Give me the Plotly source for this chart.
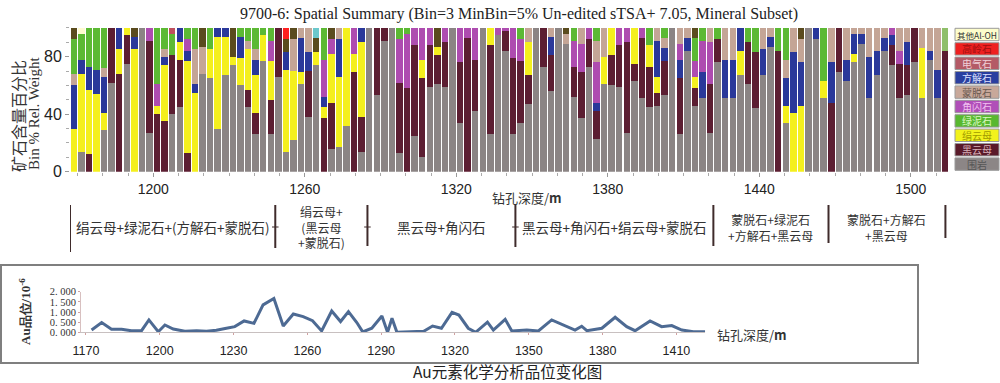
import plotly.graph_objects as go

# ---------------- top chart data (Bin = 3 m) ----------------
bin_start = 1167
bin_size = 3
n_bins = 116
depth_centers = [bin_start + bin_size * (i + 0.5) for i in range(n_bins)]

wallrock = [  # 围岩
    0, 14, 0, 0, 29, 62, 0, 75, 0, 100,
    27, 0, 0, 40, 45, 0, 0, 68, 65, 30,
    67, 74, 60, 45, 26, 77, 26, 66, 14, 22,
    61, 38, 74, 0, 16, 17, 32, 0, 14, 100,
    53, 91, 100, 13, 0, 25, 10, 59, 61, 59,
    100, 34, 0, 42, 100, 26, 95, 84, 26, 34,
    47, 100, 73, 56, 100, 89, 52, 37, 73, 23,
    61, 60, 59, 27, 63, 51, 45, 46, 53, 100,
    26, 84, 46, 51, 27, 76, 51, 51, 67, 61,
    44, 67, 87, 0, 34, 0, 0, 100, 92, 51,
    0, 69, 63, 76, 89, 51, 67, 84, 74, 51,
    53, 76, 51, 78, 51, 0]
biotite = [  # 黑云母
    0, 0, 12, 0, 0, 38, 68, 20, 0, 0,
    64, 40, 35, 41, 33, 13, 0, 0, 0, 0,
    0, 0, 0, 12, 15, 0, 24, 34, 0, 0,
    0, 32, 0, 37, 32, 0, 0, 69, 24, 0,
    47, 9, 0, 49, 58, 63, 55, 29, 20, 31,
    0, 42, 93, 36, 0, 62, 0, 14, 53, 43,
    20, 0, 27, 25, 0, 0, 21, 32, 19, 19,
    0, 21, 29, 63, 12, 42, 28, 9, 24, 0,
    39, 0, 12, 0, 34, 16, 0, 0, 0, 29,
    39, 0, 0, 84, 0, 0, 0, 0, 0, 0,
    48, 31, 0, 0, 0, 0, 0, 0, 14, 24,
    21, 24, 0, 0, 0, 84]
sericite = [  # 绢云母
    30, 54, 45, 54, 12, 0, 17, 5, 85, 0,
    0, 6, 39, 0, 12, 64, 55, 0, 20, 64,
    27, 6, 19, 28, 26, 18, 27, 0, 57, 48,
    8, 0, 9, 8, 34, 49, 68, 13, 52, 0,
    0, 0, 0, 0, 0, 0, 13, 0, 6, 0,
    0, 0, 0, 0, 0, 12, 0, 0, 0, 0,
    23, 0, 0, 0, 0, 0, 0, 0, 0, 0,
    19, 19, 0, 0, 25, 0, 15, 11, 0, 0,
    0, 0, 8, 0, 0, 0, 0, 0, 17, 0,
    0, 0, 0, 0, 12, 41, 46, 0, 0, 12,
    0, 0, 0, 6, 0, 0, 0, 0, 0, 0,
    0, 0, 35, 0, 0, 0]
calcite = [  # 方解石
    30, 10, 16, 17, 25, 0, 15, 0, 9, 0,
    0, 0, 6, 0, 10, 7, 6, 0, 0, 6,
    6, 0, 15, 0, 11, 0, 0, 0, 12, 0,
    24, 13, 0, 7, 0, 26, 0, 0, 10, 0,
    0, 0, 0, 0, 0, 0, 0, 0, 0, 0,
    0, 0, 0, 0, 0, 0, 0, 0, 0, 0,
    0, 0, 0, 13, 0, 0, 0, 0, 0, 6,
    0, 0, 0, 0, 0, 0, 0, 25, 9, 0,
    13, 9, 0, 18, 0, 0, 27, 27, 16, 0,
    0, 18, 7, 0, 19, 42, 30, 0, 8, 0,
    28, 0, 15, 14, 7, 29, 17, 9, 7, 0,
    16, 0, 0, 6, 20, 0]
amphibole = [  # 角闪石
    0, 0, 0, 0, 0, 0, 0, 0, 0, 0,
    9, 15, 0, 0, 0, 8, 0, 0, 0, 0,
    0, 0, 0, 0, 0, 0, 14, 0, 0, 0,
    0, 0, 0, 26, 10, 0, 0, 18, 0, 0,
    0, 0, 0, 30, 38, 12, 22, 12, 0, 10,
    0, 24, 7, 22, 0, 0, 5, 2, 21, 15,
    0, 0, 0, 0, 0, 0, 18, 20, 8, 28,
    0, 0, 12, 10, 0, 7, 0, 0, 0, 0,
    11, 0, 11, 22, 29, 0, 0, 0, 0, 0,
    0, 0, 0, 0, 0, 0, 0, 0, 0, 0,
    0, 0, 0, 0, 0, 0, 0, 0, 5, 9,
    0, 0, 0, 0, 0, 0]
montmorillonite = [  # 蒙脱石
    8, 0, 0, 0, 6, 0, 0, 0, 0, 0,
    0, 0, 5, 0, 0, 0, 24, 19, 0, 0,
    0, 0, 0, 6, 7, 0, 0, 0, 0, 22,
    7, 17, 0, 0, 0, 8, 0, 0, 0, 0,
    0, 0, 0, 0, 0, 0, 0, 0, 0, 0,
    0, 0, 0, 0, 0, 0, 0, 0, 0, 0,
    10, 0, 0, 6, 0, 7, 0, 11, 0, 15,
    20, 0, 0, 0, 0, 0, 0, 9, 7, 0,
    11, 7, 0, 0, 10, 0, 22, 22, 0, 0,
    0, 15, 6, 0, 13, 17, 16, 0, 0, 0,
    24, 0, 22, 4, 4, 20, 16, 7, 0, 16,
    10, 0, 14, 16, 29, 0]
chlorite = [  # 绿泥石
    24, 18, 27, 29, 28, 0, 0, 0, 0, 0,
    0, 39, 15, 15, 0, 8, 15, 0, 15, 0,
    0, 0, 6, 9, 15, 5, 9, 0, 0, 0,
    0, 0, 0, 22, 0, 0, 0, 0, 0, 0,
    0, 0, 0, 8, 4, 0, 0, 0, 0, 0,
    0, 0, 0, 0, 0, 0, 0, 0, 0, 8,
    0, 0, 0, 0, 0, 0, 9, 0, 0, 9,
    0, 0, 0, 0, 0, 0, 12, 0, 7, 0,
    0, 0, 16, 9, 0, 8, 0, 0, 0, 10,
    17, 0, 0, 16, 22, 0, 0, 0, 0, 37,
    0, 0, 0, 0, 0, 0, 0, 0, 0, 0,
    0, 0, 0, 0, 0, 0]
olive_phase = [  # dark olive segments
    8, 0, 0, 0, 0, 0, 0, 0, 6, 0,
    0, 0, 0, 0, 0, 0, 0, 13, 0, 0,
    0, 20, 0, 0, 0, 0, 0, 0, 9, 8,
    0, 0, 10, 0, 8, 0, 0, 0, 0, 0,
    0, 0, 0, 0, 0, 0, 0, 0, 13, 0,
    0, 0, 0, 0, 0, 0, 0, 0, 0, 0,
    0, 0, 0, 0, 0, 4, 0, 0, 0, 0,
    0, 0, 0, 0, 0, 0, 0, 0, 0, 0,
    0, 0, 7, 0, 0, 0, 0, 0, 0, 0,
    0, 0, 0, 0, 0, 0, 8, 0, 0, 0,
    0, 0, 0, 0, 0, 0, 0, 0, 0, 0,
    0, 0, 0, 0, 0, 0]
tourmaline = {13: 4}      # 电气石 (bin index: %)
kaolinite = {28: 8}       # 高岭石
other_aloh = {1: 4}       # 其他Al-OH
cyan_phase = {32: 7}
lightgreen_phase = {115: 16}

# stacking order (bottom -> top)
series = [
    ("围岩", wallrock, "#8b8484"),
    ("黑云母", biotite, "#5c1e32"),
    ("绢云母", sericite, "#f4ef1e"),
    ("方解石", calcite, "#2a389a"),
    ("角闪石", amphibole, "#ae4cb0"),
    ("蒙脱石", montmorillonite, "#c4a596"),
    ("绿泥石", chlorite, "#5cb934"),
    ("olive", olive_phase, "#5a4b1e"),
    ("电气石", tourmaline, "#c0505e"),
    ("高岭石", kaolinite, "#ff2020"),
    ("其他Al-OH", other_aloh, "#fffbd0"),
    ("cyan", cyan_phase, "#6cc8cc"),
    ("lightgreen", lightgreen_phase, "#8fbf6a"),
]

legend_names = ["其他Al-OH", "高岭石", "电气石", "方解石", "蒙脱石",
                "角闪石", "绿泥石", "绢云母", "黑云母", "围岩"]
legend_fill = ["#fdfdcc", "#ee2020", "#b45a66", "#2a3fa0", "#c8a89a",
               "#b04fb8", "#58b830", "#f2f21c", "#5a1a2a", "#8c8686"]
legend_text = ["#333333", "#a01010", "#f0d0d8", "#dde0ff", "#6a5a50",
               "#f0c0f0", "#d8f8c0", "#a09a00", "#d8b0b8", "#555555"]

x_tick_vals = [1200, 1260, 1320, 1380, 1440, 1500]
y_tick_vals = [0, 40, 80]

# zone band
zone_bounds = [1167, 1248.3, 1284.8, 1343.4, 1421.8, 1467.4, 1513.7]
zone_bottoms_px = [252, 248, 246, 247, 246, 243, 238]
zone_labels = ["绢云母+绿泥石+(方解石+蒙脱石)",
               "绢云母+<br>(黑云母<br>+蒙脱石)",
               "黑云母+角闪石",
               "黑云母+角闪石+绢云母+蒙脱石",
               "蒙脱石+绿泥石<br>+方解石+黑云母",
               "蒙脱石+方解石<br>+黑云母"]

# ---------------- bottom chart data ----------------
au_depth = [1172.3, 1176.4, 1180.4, 1184.5, 1188.5, 1192.6, 1195.6, 1199.4, 1202.1, 1205.5,
            1210.2, 1215, 1219, 1223, 1227.1, 1230.5, 1234.3, 1238.3, 1242, 1246.4,
            1250.2, 1254.3, 1258.3, 1262.1, 1265.8, 1269.9, 1273.5, 1276.7, 1280.1, 1282.5,
            1286.2, 1290.3, 1292.6, 1294.4, 1296.4, 1301.8, 1307.3, 1310.9, 1314.5, 1318.8,
            1321.6, 1325.4, 1328.4, 1333.2, 1335.6, 1340.4, 1343.1, 1349.2, 1353.9, 1359.3,
            1364.1, 1368.8, 1371.5, 1373.6, 1379.7, 1385.1, 1389.8, 1393.2, 1399.3, 1404,
            1408.1, 1412.2, 1416.9, 1421.7]
au_grade = [0.11, 0.48, 0.15, 0.15, 0.08, 0.08, 0.61, 0.03, 0.36, 0.16,
            0.05, 0.08, 0.05, 0.10, 0.20, 0.28, 0.56, 0.44, 1.35, 1.67,
            0.31, 0.90, 0.77, 0.57, 0.07, 1.05, 0.53, 1.02, 0.48, 0.02,
            0.20, 0.80, 0.00, 0.69, 0.00, 0.03, 0.05, 0.31, 0.20, 0.98,
            0.85, 0.20, 0.00, 0.50, 0.11, 0.64, 0.07, 0.11, 0.07, 0.61,
            0.36, 0.11, 0.30, 0.08, 0.20, 0.74, 0.28, 0.08, 0.56, 0.28,
            0.33, 0.11, 0.03, 0.03]
au_xticks = [1170, 1200, 1230, 1260, 1290, 1320, 1350, 1380, 1410]
au_yticks = [0, 0.5, 1.0, 1.5, 2.0]
au_yticktext = ["0. 000", "0. 500", "1. 000", "1. 500", "2. 000"]

# ---------------- build figure ----------------
W, H = 1000, 383


def px_x(p):
    return p / W


def px_y(p):
    return 1 - p / H


fig = go.Figure()
for name, vals, color in series:
    if isinstance(vals, dict):
        vals = [vals.get(i, 0) for i in range(n_bins)]
    fig.add_trace(go.Bar(x=depth_centers, y=vals, name=name,
                         marker=dict(color=color, line=dict(width=0)),
                         xaxis="x", yaxis="y", showlegend=False, hoverinfo="name+y"))

fig.add_trace(go.Scatter(x=au_depth, y=au_grade, mode="lines",
                         line=dict(color="#4d6a93", width=3),
                         xaxis="x2", yaxis="y2", showlegend=False))

shapes = []
annotations = []

# legend boxes
lg_top = 28.3
lg_step = 14.4
for i, (nm, fc, tc) in enumerate(zip(legend_names, legend_fill, legend_text)):
    y0 = lg_top + i * lg_step
    y1 = y0 + 12.4
    shapes.append(dict(type="rect", xref="paper", yref="paper",
                       x0=px_x(955), x1=px_x(999), y0=px_y(y1), y1=px_y(y0),
                       fillcolor=fc, line=dict(color="#9a9a9a", width=1)))
    annotations.append(dict(xref="paper", yref="paper", x=px_x(977), y=px_y((y0 + y1) / 2),
                            text=nm, showarrow=False, xanchor="center", yanchor="middle",
                            font=dict(family="Noto Sans CJK SC", size=8.5 if i == 0 else 10, color=tc)))

# zone separators
for b, bot in zip(zone_bounds, zone_bottoms_px):
    shapes.append(dict(type="line", xref="x", yref="paper", x0=b, x1=b,
                       y0=px_y(bot), y1=px_y(205), line=dict(color="#3f2b2b", width=2)))
for b in zone_bounds[1:4]:
    shapes.append(dict(type="line", xref="x", yref="paper", x0=b - 1.3, x1=b + 1.3,
                       y0=px_y(227), y1=px_y(227), line=dict(color="#3f2b2b", width=1)))
for k, lab in enumerate(zone_labels):
    cx = (zone_bounds[k] + zone_bounds[k + 1]) / 2
    nlines = lab.count("<br>") + 1
    annotations.append(dict(xref="x", yref="paper", x=cx, y=px_y(227), text=lab,
                            showarrow=False, xanchor="center", yanchor="middle",
                            font=dict(family="Noto Sans CJK SC",
                                      size=13.5 if nlines == 1 else 12,
                                      color="#333333")))

# bottom panel frame
shapes.append(dict(type="rect", xref="paper", yref="paper", x0=px_x(1), x1=px_x(918),
                   y0=px_y(363), y1=px_y(265), line=dict(color="#7f7f7f", width=2),
                   fillcolor="rgba(0,0,0,0)"))

# titles and labels
annotations += [
    dict(xref="paper", yref="paper", x=px_x(519), y=px_y(14),
         text="9700-6: Spatial Summary (Bin=3 MinBin=5% Un-edited sTSA+ 7.05, Mineral Subset)",
         showarrow=False, xanchor="center", yanchor="middle",
         font=dict(family="Liberation Serif", size=16, color="#222222")),
    dict(xref="paper", yref="paper", x=px_x(18), y=px_y(116), text="矿石含量百分比",
         textangle=-90, showarrow=False, xanchor="center", yanchor="middle",
         font=dict(family="Noto Sans CJK SC", size=16, color="#333333")),
    dict(xref="paper", yref="paper", x=px_x(34), y=px_y(113), text="Bin % Rel. Weight",
         textangle=-90, showarrow=False, xanchor="center", yanchor="middle",
         font=dict(family="Liberation Serif", size=15, color="#333333")),
    dict(xref="paper", yref="paper", x=px_x(527), y=px_y(197), text="钻孔深度/<b>m</b>",
         showarrow=False, xanchor="center", yanchor="middle",
         font=dict(family="Noto Sans CJK SC", size=13, color="#333333")),
    dict(xref="paper", yref="paper", x=px_x(752), y=px_y(334), text="钻孔深度/<b>m</b>",
         showarrow=False, xanchor="center", yanchor="middle",
         font=dict(family="Noto Sans CJK SC", size=13, color="#333333")),
    dict(xref="paper", yref="paper", x=px_x(25), y=px_y(312), text="<b>Au品位/10<sup>-6</sup></b>",
         textangle=-90, showarrow=False, xanchor="center", yanchor="middle",
         font=dict(family="Liberation Serif", size=13, color="#333333")),
    dict(xref="paper", yref="paper", x=px_x(507), y=px_y(371.3), text="Au元素化学分析品位变化图",
         showarrow=False, xanchor="center", yanchor="middle",
         font=dict(family="Noto Sans CJK SC", size=15.5, color="#222222")),
]

fig.update_layout(
    width=W, height=H, margin=dict(l=0, r=0, t=0, b=0, autoexpand=False),
    paper_bgcolor="white", plot_bgcolor="white",
    barmode="stack", bargap=0.15, showlegend=False,
    xaxis=dict(domain=[px_x(70), px_x(948.7)], range=[1167, 1515], anchor="y",
               automargin=False,
               tickmode="linear", tick0=1200, dtick=60,
               ticks="outside", ticklen=4, tickcolor="#999999",
               minor=dict(dtick=10, ticks="outside", ticklen=3, tickcolor="#aaaaaa"),
               showgrid=False, zeroline=False, showline=False,
               tickfont=dict(family="Liberation Sans", size=14, color="#222222")),
    yaxis=dict(domain=[px_y(171.7), px_y(27.9)], range=[0, 100], anchor="x",
               automargin=False,
               tickmode="array", tickvals=y_tick_vals,
               ticks="outside", ticklen=4, tickcolor="#999999",
               minor=dict(dtick=10, ticks="outside", ticklen=3, tickcolor="#aaaaaa"),
               showgrid=False, zeroline=False, showline=False,
               tickfont=dict(family="Liberation Sans", size=16, color="#222222")),
    xaxis2=dict(domain=[px_x(81), px_x(705.2)], range=[1168, 1421.7], anchor="y2",
                automargin=False,
                tickmode="array", tickvals=au_xticks,
                ticks="outside", ticklen=2, tickcolor="#d0a0a0", ticklabelstandoff=5,
                showgrid=False, zeroline=False, showline=True, linecolor="#c8c0c0", linewidth=1,
                tickfont=dict(family="Liberation Sans", size=12.5, color="#222222")),
    yaxis2=dict(domain=[px_y(332.3), px_y(291.7)], range=[0, 2], anchor="x2",
                automargin=False,
                tickmode="array", tickvals=au_yticks, ticktext=au_yticktext,
                ticks="outside", ticklen=2, tickcolor="#d0a0a0",
                showgrid=False, zeroline=False, showline=True, linecolor="#d8c0c0", linewidth=1,
                tickfont=dict(family="Liberation Serif", size=10.5, color="#333333")),
    shapes=shapes, annotations=annotations,
)

fig.write_html("out.html",
               config={"displayModeBar": False},
               post_script="document.body.style.margin='0';document.body.style.overflow='hidden';")
